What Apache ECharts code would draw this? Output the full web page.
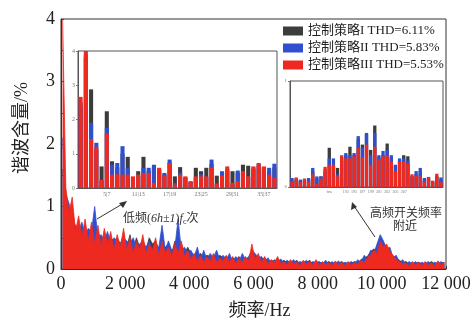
<!DOCTYPE html>
<html><head><meta charset="utf-8">
<script src="https://cdn.jsdelivr.net/npm/echarts@6/dist/echarts.min.js"></script>
<style>html,body{margin:0;padding:0;background:#fff}#c{width:475px;height:325px}</style>
</head><body><div id="c"></div>
<script>
// ---- main spectrum (frequency = firstFreq + i*freqStep, Hz) ----
const firstFreq = 50, freqStep = 100;
const mainRed = [
4.0,1.30,0.90,1.15,0.60,0.85,0.50,0.80,0.45,0.75,
0.40,0.70,0.35,0.65,0.40,0.60,0.30,0.55,0.35,0.65,
0.30,0.50,0.25,0.45,0.30,0.55,0.25,0.40,0.30,0.50,
0.20,0.45,0.25,0.35,0.20,0.40,0.25,0.45,0.20,0.30,
0.15,0.25,0.12,0.22,0.10,0.20,0.12,0.25,0.10,0.18,
0.12,0.22,0.10,0.20,0.08,0.18,0.10,0.20,0.12,0.40,
0.15,0.25,0.10,0.20,0.08,0.15,0.10,0.20,0.08,0.12,
0.06,0.15,0.08,0.12,0.05,0.14,0.07,0.12,0.06,0.15,
0.05,0.12,0.07,0.10,0.05,0.13,0.06,0.11,0.05,0.12,
0.06,0.10,0.08,0.14,0.10,0.18,0.22,0.30,0.25,0.45,
0.35,0.40,0.28,0.22,0.15,0.12,0.08,0.10,0.05,0.12,
0.06,0.10,0.05,0.12,0.06,0.10,0.05,0.13,0.06,0.10];
const mainBlue = [
2.10,1.20,1.05,0.80,0.70,0.60,0.75,0.55,0.65,0.60,
1.00,0.50,0.55,0.45,0.60,0.40,0.50,0.45,0.40,0.50,
0.45,0.40,0.50,0.35,0.40,0.45,0.35,0.45,0.30,0.40,
0.35,0.70,0.30,0.45,0.30,0.35,0.80,0.30,0.35,0.25,
0.30,0.20,0.35,0.15,0.30,0.15,0.25,0.18,0.30,0.15,
0.22,0.15,0.25,0.12,0.20,0.12,0.25,0.15,0.20,0.30,
0.25,0.18,0.20,0.12,0.18,0.10,0.15,0.12,0.16,0.10,
0.14,0.10,0.15,0.08,0.12,0.10,0.14,0.08,0.12,0.10,
0.12,0.08,0.14,0.07,0.12,0.08,0.13,0.07,0.11,0.09,
0.12,0.08,0.15,0.10,0.22,0.15,0.30,0.25,0.40,0.55,
0.45,0.32,0.35,0.18,0.22,0.10,0.15,0.07,0.12,0.08,
0.12,0.07,0.11,0.08,0.12,0.06,0.11,0.08,0.12,0.07];
const mainGray = [
1.60,1.10,0.80,1.00,0.60,0.65,0.55,0.70,0.50,0.65,
0.55,0.60,0.45,0.55,0.50,0.50,0.45,0.50,0.40,0.55,
0.35,0.55,0.30,0.50,0.35,0.45,0.30,0.50,0.40,0.45,
0.30,0.40,0.35,0.40,0.25,0.45,0.30,0.40,0.25,0.35,
0.25,0.22,0.20,0.25,0.18,0.22,0.20,0.20,0.15,0.22,
0.18,0.20,0.15,0.18,0.15,0.20,0.12,0.18,0.15,0.25,
0.20,0.15,0.15,0.18,0.12,0.14,0.12,0.16,0.10,0.14,
0.10,0.12,0.10,0.14,0.08,0.12,0.10,0.14,0.08,0.12,
0.10,0.10,0.09,0.12,0.08,0.11,0.09,0.12,0.08,0.10,
0.09,0.12,0.10,0.15,0.18,0.20,0.28,0.32,0.30,0.40,
0.42,0.30,0.25,0.20,0.18,0.14,0.10,0.12,0.08,0.10,
0.09,0.11,0.08,0.10,0.09,0.12,0.08,0.10,0.09,0.11];

// ---- inset 1: low-frequency (6h±1) harmonics ----
const inset1Red  = [2.66,4.0,1.43,1.2,0.24,1.59,0.39,0.4,0.39,0.39,0.34,0.39,0.44,0.44,0.15,0.59,0.36,0.73,0.1,0.39,0.34,0.2,0.34,0.34,0.34,0.59,0.13,0.36,0.63,0.15,0.2,0.49,0.34,0.63,0.73,0.63,0.39,0.29];
const inset1Blue = [2.5,3.9,1.9,1.32,0.2,1.76,0.68,0.73,1.22,0.59,0.3,0.35,0.59,0.59,0.68,0.5,0.44,0.83,0.15,0.45,0.3,0.18,0.3,0.4,0.3,0.83,0.12,0.49,0.55,0.12,0.51,0.45,0.3,0.6,0.7,0.6,0.59,0.71];
const inset1Gray = [2.4,3.8,2.88,1.1,0.63,2.24,0.78,0.6,1.0,0.91,0.3,0.49,0.91,0.5,0.6,0.55,0.4,0.75,0.34,0.61,0.3,0.18,0.59,0.49,0.59,0.7,0.36,0.45,0.5,0.49,0.45,0.68,0.65,0.55,0.65,0.55,0.5,0.6];
const inset1Ticks = ['5|7','11|13','17|19','23|25','29|31','35|37'];

// ---- inset 2: around switching frequency ----
const inset2Red  = [0.05,0.09,0.045,0.08,0.05,0.12,0.03,0.08,0.19,0.21,0.21,0.1,0.3,0.27,0.27,0.29,0.37,0.28,0.4,0.21,0.38,0.26,0.29,0.3,0.24,0.15,0.24,0.24,0.22,0.12,0.11,0.1,0.05,0.09,0.06,0.125,0.05];
const inset2Blue = [0.085,0.08,0.07,0.07,0.085,0.18,0.1,0.1,0.17,0.27,0.27,0.12,0.28,0.32,0.3,0.32,0.48,0.37,0.51,0.3,0.51,0.3,0.34,0.35,0.3,0.21,0.27,0.27,0.25,0.1,0.15,0.18,0.085,0.095,0.05,0.1,0.09];
const inset2Gray = [0.06,0.07,0.06,0.06,0.07,0.15,0.08,0.1,0.15,0.37,0.2,0.18,0.25,0.3,0.38,0.3,0.45,0.4,0.5,0.35,0.58,0.28,0.3,0.41,0.28,0.2,0.25,0.3,0.29,0.1,0.12,0.15,0.07,0.08,0.05,0.1,0.07];
const inset2Ticks = {9:'fsw', 13:'193', 15:'195', 17:'197', 19:'199', 21:'201', 23:'203', 25:'205', 27:'207'};

const seriesNames = ['控制策略I THD=6.11%','控制策略II THD=5.83%','控制策略III THD=5.53%'];
const colors = ['#3c3c3c','#2f4fcf','#ee2a20'];

const SERIF = "'Liberation Serif','Times New Roman','Noto Sans CJK SC',serif";
const toPairs = arr => arr.map((v,i)=>[firstFreq + i*freqStep, v]);
const idx = arr => arr.map((_,i)=>String(i+1));

const chart = echarts.init(document.getElementById('c'), null, {renderer:'canvas'});
const mainData = [mainGray, mainBlue, mainRed];
const in1 = [inset1Gray, inset1Blue, inset1Red];
const in2 = [inset2Gray, inset2Blue, inset2Red];

const series = [];
for (let k=0;k<3;k++){
  series.push({name:seriesNames[k], type:'line', xAxisIndex:0, yAxisIndex:0, symbol:'none', sampling:null,
    data: toPairs(mainData[k]), lineStyle:{width:0.8,color:colors[k]}, itemStyle:{color:colors[k]},
    areaStyle:{color:colors[k],opacity:1}, z:2+k, animation:false});
}
for (let k=0;k<3;k++){
  series.push({name:seriesNames[k], type:'bar', xAxisIndex:1, yAxisIndex:1, data:in1[k], barGap:'-100%', barCategoryGap:'22%',
    itemStyle:{color:colors[k]}, z:10+k, animation:false});
}
for (let k=0;k<3;k++){
  series.push({name:seriesNames[k], type:'bar', xAxisIndex:2, yAxisIndex:2, data:in2[k], barGap:'-100%', barCategoryGap:'20%',
    itemStyle:{color:colors[k]}, z:10+k, animation:false});
}

const smallAxisLabel = {fontSize:6, color:'#777', fontFamily:SERIF, margin:3};

chart.setOption({
  animation:false,
  backgroundColor:'#fff',
  legend:{data:seriesNames, orient:'vertical', left:283, top:24, itemWidth:20, itemHeight:9, itemGap:3, padding:0,
    icon:'rect', textStyle:{fontSize:13, fontFamily:SERIF, color:'#222', lineHeight:14}, selectedMode:false},
  grid:[
    {left:61, right:29, top:19, bottom:53, show:true, borderColor:'#333', borderWidth:1, backgroundColor:'transparent'},
    {left:78, top:51, width:199, height:137, show:true, borderColor:'#555', borderWidth:1, backgroundColor:'#fff'},
    {left:290, top:81, width:153, height:106, show:true, borderColor:'#555', borderWidth:1, backgroundColor:'#fff'}
  ],
  xAxis:[
    {type:'value', gridIndex:0, min:0, max:12000, interval:2000,
      axisLine:{lineStyle:{color:'#333'}}, axisTick:{inside:true, length:3, lineStyle:{color:'#333'}},
      minorTick:{show:true, splitNumber:2, length:2, lineStyle:{color:'#333'}},
      splitLine:{show:false},
      axisLabel:{fontSize:18, fontFamily:SERIF, color:'#222', margin:6,
        formatter:v => v===0 ? '0' : Math.floor(v/1000)+' 000'},
      name:'频率/Hz', nameLocation:'middle', nameGap:33,
      nameTextStyle:{fontSize:18, fontFamily:SERIF, color:'#222', padding:[0,0,0,12]}},
    {type:'category', gridIndex:1, data:idx(inset1Red),
      axisLine:{lineStyle:{color:'#555'}}, axisTick:{show:false},
      axisLabel:Object.assign({}, smallAxisLabel, {interval:(i)=> i%6===5, formatter:(v,i)=> inset1Ticks[(i-5)/6] || ''})},
    {type:'category', gridIndex:2, data:idx(inset2Red),
      axisLine:{lineStyle:{color:'#555'}}, axisTick:{show:false},
      axisLabel:Object.assign({}, smallAxisLabel, {fontSize:4, interval:(i)=> inset2Ticks[i]!==undefined, formatter:(v,i)=> inset2Ticks[i] || ''})}
  ],
  yAxis:[
    {type:'value', gridIndex:0, min:0, max:4, interval:1,
      axisLine:{show:true, lineStyle:{color:'#333'}}, axisTick:{show:true, inside:true, length:3, lineStyle:{color:'#333'}},
      minorTick:{show:true, splitNumber:2, length:2, lineStyle:{color:'#333'}},
      splitLine:{show:false},
      axisLabel:{fontSize:18, fontFamily:SERIF, color:'#222', margin:6}},
    {type:'value', gridIndex:1, min:0, max:4, interval:1,
      axisLine:{show:true, lineStyle:{color:'#555'}}, axisTick:{show:true, length:2, lineStyle:{color:'#777'}},
      splitLine:{show:false}, axisLabel:smallAxisLabel},
    {type:'value', gridIndex:2, min:0, max:1, interval:1,
      axisLine:{show:true, lineStyle:{color:'#555'}}, axisTick:{show:true, length:2, lineStyle:{color:'#777'}},
      splitLine:{show:false}, axisLabel:Object.assign({}, smallAxisLabel, {fontSize:5})}
  ],
  graphic:[
    {type:'text', left:null, x:22, y:128, rotation:Math.PI/2, z:50,
      style:{text:'谐波含量/%', font:"18px 'Liberation Serif','Noto Sans CJK SC',serif", fill:'#222', textAlign:'center', textVerticalAlign:'middle'}},
    {type:'text', x:123, y:219, z:50,
      style:{text:'{a|低频(}{i|6h±1}{a|)}{i|f}{s|c}{a|次}', textVerticalAlign:'middle',
        rich:{a:{fontSize:12, fontFamily:SERIF, fill:'#333'}, i:{fontSize:12, fontStyle:'italic', fontFamily:SERIF, fill:'#333'},
              s:{fontSize:8, fontFamily:SERIF, fill:'#333', padding:[6,0,0,0]}}}},
    {type:'line', z:50, shape:{x1:97, y1:219, x2:124, y2:203}, style:{stroke:'#333', lineWidth:1}},
    {type:'polygon', z:50, shape:{points:[[127,201],[119,203],[123,208]]}, style:{fill:'#333'}},
    {type:'text', x:406, y:212, z:50,
      style:{text:'高频开关频率', font:"12px 'Noto Sans CJK SC',serif", fill:'#333', textAlign:'center', textVerticalAlign:'middle'}},
    {type:'text', x:405, y:225, z:50,
      style:{text:'附近', font:"12px 'Noto Sans CJK SC',serif", fill:'#333', textAlign:'center', textVerticalAlign:'middle'}},
    {type:'line', z:50, shape:{x1:375, y1:237, x2:354, y2:206}, style:{stroke:'#333', lineWidth:1}},
    {type:'polygon', z:50, shape:{points:[[352,202],[351,210],[357,207]]}, style:{fill:'#333'}}
  ],
  series: series
});
</script>
</body></html>
